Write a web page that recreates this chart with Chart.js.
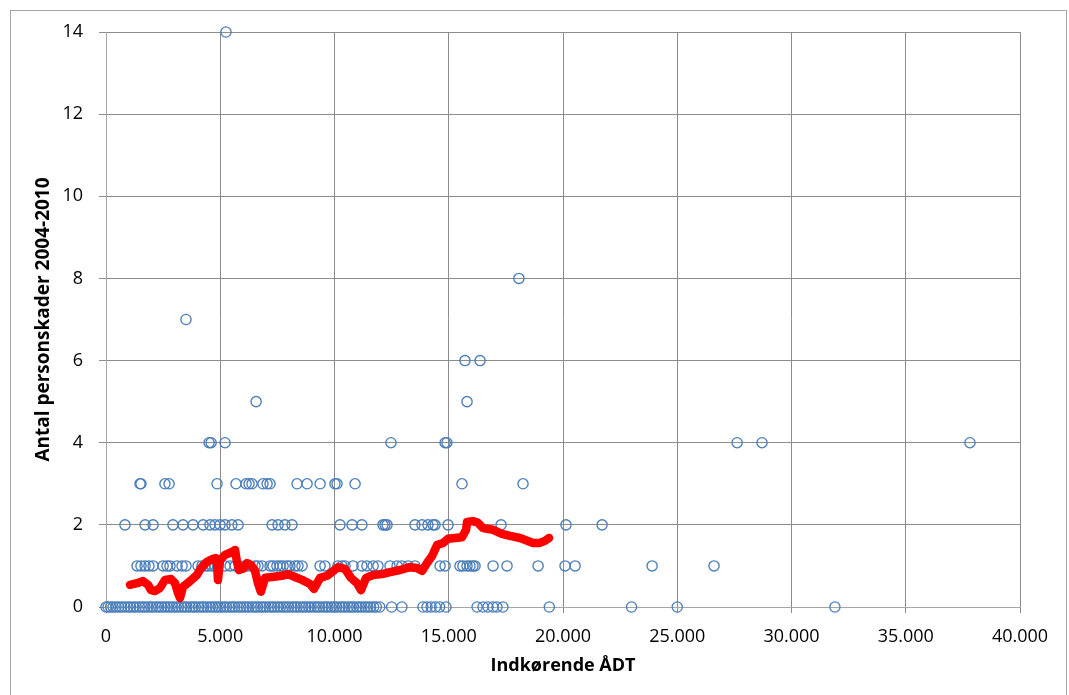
<!DOCTYPE html>
<html>
<head>
<meta charset="utf-8">
<script src="https://cdn.jsdelivr.net/npm/chart.js@4.4.1/dist/chart.umd.min.js"></script>
<style>
  html, body { margin: 0; padding: 0; background: #ffffff; }
  #wrap { width: 1069px; height: 695px; position: relative; }
</style>
</head>
<body>
<div id="wrap"><canvas id="chart" width="1069" height="695"></canvas></div>
<script>
// Indkørende ÅDT for each road section, grouped by number of injuries 2004-2010
const adtInjuries0 = [0, 90, 200, 310, 440, 560, 690, 820, 960, 1070, 1210, 1320, 1460, 1590, 1700, 1830, 1960, 2060, 2200, 2310, 2440, 2570, 2690, 2810, 2930, 3060, 3170, 3310, 3430, 3540, 3680, 3800, 3910, 4050, 4180, 4280, 4420, 4550, 4670, 4790, 4910, 5020, 5160, 5270, 5410, 5530, 5640, 5780, 5900, 6030, 6150, 6260, 6400, 6520, 6630, 6770, 6890, 7000, 7140, 7260, 7370, 7510, 7630, 7760, 7880, 7990, 8130, 8250, 8360, 8500, 8620, 8740, 8870, 8980, 9120, 9240, 9350, 9490, 9610, 9720, 9860, 9980, 10090, 10230, 10350, 10460, 10600, 10720, 10830, 10970, 11090, 11200, 11340, 11460, 11580, 11710, 11830, 11980, 12500, 12950, 13870, 14050, 14230, 14420, 14600, 14880, 16240, 16500, 16720, 16940, 17110, 17370, 19400, 23000, 25000, 31900];
const adtInjuries1 = [1360, 1530, 1710, 1880, 2060, 2500, 2670, 2800, 3110, 3330, 3500, 4030, 4200, 4330, 4460, 4640, 4770, 4900, 5210, 5430, 5650, 5860, 6080, 6210, 6520, 6650, 6830, 7180, 7310, 7480, 7620, 7750, 7920, 8050, 8270, 8400, 8580, 9370, 9580, 10150, 10330, 10460, 10810, 11200, 11420, 11690, 11900, 12430, 12740, 12950, 13220, 13520, 14620, 14840, 15490, 15620, 15800, 15930, 16060, 16150, 16940, 17550, 18910, 20090, 20530, 23900, 26610];
const adtInjuries2 = [830, 1710, 2060, 2930, 3370, 3810, 4250, 4550, 4770, 4990, 5210, 5510, 5780, 7270, 7530, 7830, 8140, 10240, 10770, 11200, 12120, 12210, 12300, 13520, 13830, 14090, 14310, 14400, 14970, 17290, 20130, 21710];
const adtInjuries3 = [1490, 1530, 2580, 2760, 4860, 5690, 6130, 6260, 6390, 6870, 7050, 7180, 8360, 8800, 9370, 10020, 10110, 10900, 15580, 18250];
const adtInjuries4 = [4510, 4600, 5210, 12470, 14840, 14920, 27620, 28710, 37810];
const adtInjuries5 = [6570, 15800];
const adtInjuries6 = [15710, 16370];
const adtInjuries7 = [3500];
const adtInjuries8 = [18070];
const adtInjuries14 = [5250];

// Running average of injuries along ÅDT
const trendAdt = [1050, 1360, 1620, 1840, 1970, 2140, 2360, 2580, 2850, 3020, 3150, 3240, 3370, 3680, 3980, 4160, 4420, 4680, 4810, 4860, 4900, 4990, 5210, 5510, 5650, 5730, 5820, 6000, 6170, 6350, 6520, 6650, 6780, 6960, 7270, 7700, 7970, 8270, 8580, 8930, 9100, 9370, 9670, 9890, 10150, 10460, 10720, 10990, 11160, 11380, 11690, 12080, 12430, 12870, 13300, 13610, 13830, 14050, 14270, 14490, 14750, 14970, 15270, 15580, 15760, 15800, 16060, 16280, 16500, 16940, 17330, 17680, 18120, 18690, 18990, 19210, 19390];
const trendInjuries = [0.54, 0.58, 0.63, 0.54, 0.41, 0.39, 0.46, 0.66, 0.68, 0.58, 0.34, 0.22, 0.49, 0.63, 0.78, 0.95, 1.10, 1.17, 1.19, 1.05, 0.66, 1.14, 1.27, 1.34, 1.39, 1.10, 0.90, 0.93, 1.07, 1.02, 0.88, 0.58, 0.37, 0.71, 0.73, 0.76, 0.80, 0.73, 0.66, 0.56, 0.44, 0.71, 0.76, 0.85, 0.97, 0.93, 0.71, 0.58, 0.41, 0.71, 0.78, 0.80, 0.85, 0.90, 0.97, 0.95, 0.88, 1.07, 1.24, 1.51, 1.56, 1.66, 1.68, 1.70, 1.88, 2.07, 2.09, 2.05, 1.92, 1.88, 1.78, 1.73, 1.68, 1.56, 1.56, 1.61, 1.68];

const xTickValues = [0, 5000, 10000, 15000, 20000, 25000, 30000, 35000, 40000];
const yTickValues = [0, 2, 4, 6, 8, 10, 12, 14];

const injuryGroups = [
  [0, adtInjuries0], [1, adtInjuries1], [2, adtInjuries2], [3, adtInjuries3],
  [4, adtInjuries4], [5, adtInjuries5], [6, adtInjuries6], [7, adtInjuries7],
  [8, adtInjuries8], [14, adtInjuries14]
];
const scatterPoints = [];
injuryGroups.forEach(([count, list]) => list.forEach(adt => scatterPoints.push({ x: adt, y: count })));
const trendPoints = trendAdt.map((adt, i) => ({ x: adt, y: trendInjuries[i] }));

const fmtThousands = v => String(v).replace(/\B(?=(\d{3})+(?!\d))/g, '.');
const FONT = '"Open Sans", "DejaVu Sans", sans-serif';

const frame = {
  id: 'frame',
  beforeDraw(chart) {
    const ctx = chart.ctx;
    ctx.save();
    ctx.fillStyle = '#ffffff';
    ctx.fillRect(0, 0, chart.width, chart.height);
    ctx.strokeStyle = '#a6a6a6';
    ctx.lineWidth = 1;
    ctx.strokeRect(10.5, 10.5, 1056, 700);
    ctx.restore();
  }
};

new Chart(document.getElementById('chart'), {
  type: 'scatter',
  data: {
    datasets: [
      {
        type: 'line',
        data: trendPoints,
        borderColor: '#ff0000',
        borderWidth: 8.5,
        pointRadius: 0,
        tension: 0,
        fill: false,
        borderCapStyle: 'round',
        borderJoinStyle: 'round',
        clip: false,
        order: 0
      },
      {
        data: scatterPoints,
        pointStyle: 'circle',
        pointRadius: 5.1,
        pointBorderWidth: 1.35,
        pointBorderColor: '#4a7ebb',
        pointBackgroundColor: 'rgba(0,0,0,0)',
        showLine: false,
        clip: false,
        order: 1
      }
    ]
  },
  options: {
    responsive: false,
    animation: false,
    devicePixelRatio: 1,
    layout: { padding: { left: 0, top: 32, right: 49, bottom: 0 } },
    plugins: { legend: { display: false }, tooltip: { enabled: false } },
    scales: {
      x: {
        type: 'linear',
        min: 0,
        max: 40000,
        afterBuildTicks: s => { s.ticks = xTickValues.map(v => ({ value: v })); },
        afterFit: s => { s.height = 88; },
        grid: { color: '#8c8c8c', lineWidth: 1, tickLength: 6, drawTicks: true },
        border: { color: '#a6a6a6', width: 1 },
        ticks: {
          padding: 13,
          color: '#000000',
          font: { family: FONT, size: 18 },
          maxRotation: 0,
          callback: v => fmtThousands(v)
        },
        title: {
          display: true,
          text: 'Indkørende ÅDT',
          color: '#000000',
          font: { family: FONT, size: 18, weight: 'bold' },
          padding: { top: 0, bottom: 18 }
        }
      },
      y: {
        type: 'linear',
        min: 0,
        max: 14,
        afterBuildTicks: s => { s.ticks = yTickValues.map(v => ({ value: v })); },
        afterFit: s => { s.width = 106; },
        grid: { color: '#8c8c8c', lineWidth: 1, tickLength: 7, drawTicks: true },
        border: { color: '#a6a6a6', width: 1 },
        ticks: {
          padding: 16,
          color: '#000000',
          font: { family: FONT, size: 18 },
          callback: v => String(v)
        },
        title: {
          display: true,
          text: 'Antal personskader 2004-2010',
          color: '#000000',
          font: { family: FONT, size: 19, weight: 'bold' },
          padding: { top: 32, bottom: 0 }
        }
      }
    }
  },
  plugins: [frame]
});
</script>
</body>
</html>
